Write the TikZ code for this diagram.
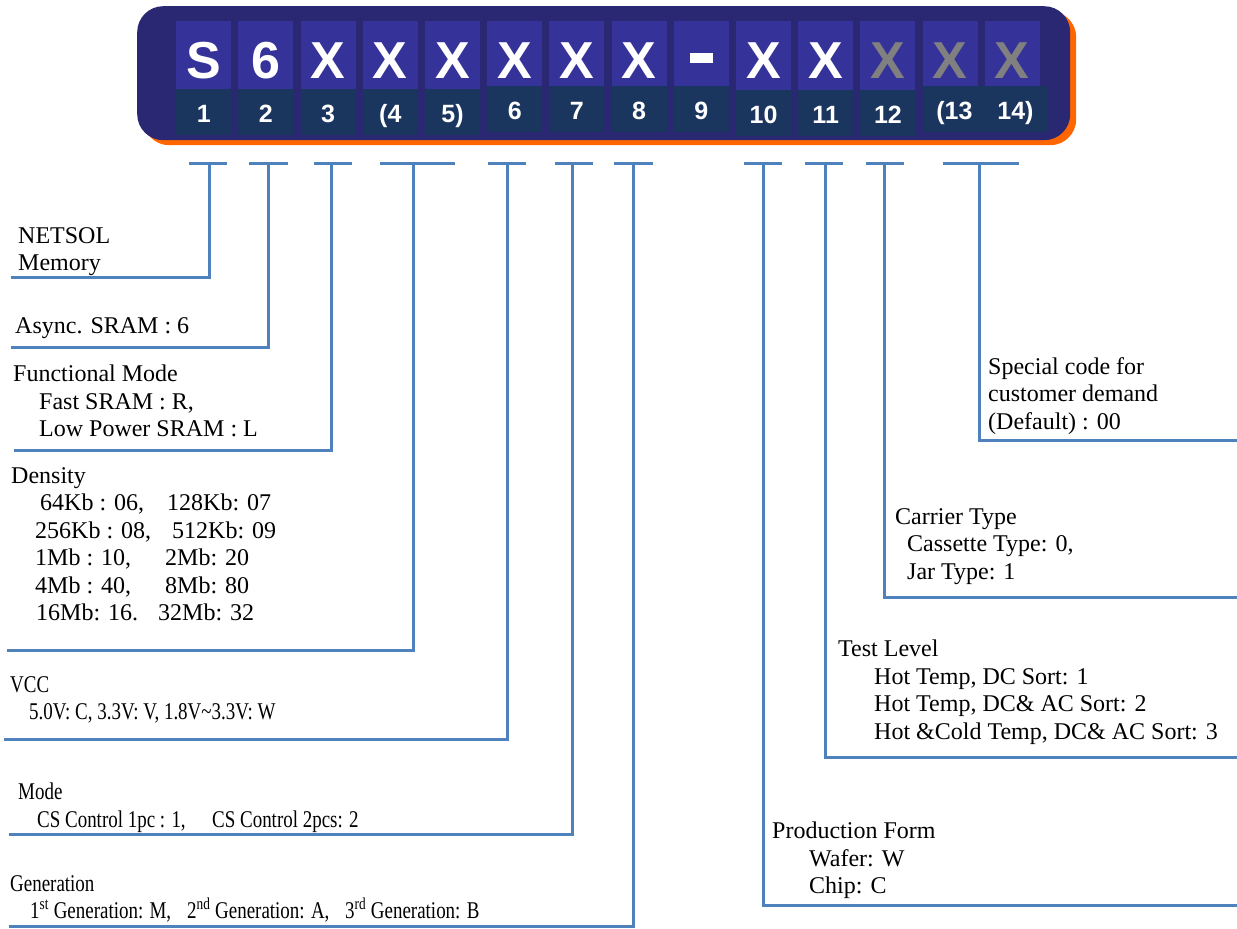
\documentclass[tikz,border=0pt]{standalone}
\usepackage{fontspec}
\setmainfont{Liberation Serif}
\setsansfont{Liberation Sans}
\newfontfamily\condserif[FakeStretch=0.79]{Liberation Serif}
\usepackage{xcolor}
\usepackage{tikz}
\definecolor{codenavy}{RGB}{42, 40, 115}
\definecolor{codeorange}{RGB}{255, 102, 0}
\definecolor{celltop}{RGB}{53, 51, 153}
\definecolor{cellbot}{RGB}{26, 54, 94}
\definecolor{codegray}{RGB}{128, 128, 128}
\definecolor{leadblue}{RGB}{79, 129, 189}
\newcommand{\codedash}{\rule[15pt]{23pt}{10pt}}

\begin{document}
\begin{tikzpicture}[
    x=1pt, y=-1pt,
    barbox/.style={anchor=north west, rounded corners=26pt, inner sep=0pt,
                   minimum width=933pt, minimum height=134pt},
    topcell/.style={anchor=north west, fill=celltop, minimum width=55pt, inner sep=0pt,
                    text height=57pt, text depth=12pt, text=white,
                    font=\sffamily\bfseries\fontsize{52}{52}\selectfont},
    botcell/.style={anchor=north west, fill=cellbot, minimum width=55pt, inner sep=0pt,
                    text height=33pt, text depth=13pt, text=white,
                    font=\sffamily\bfseries\fontsize{25}{25}\selectfont},
    lead/.style={draw=leadblue, line width=3pt},
    desc/.style={anchor=north west, inner sep=0pt, align=left,
                 font=\fontsize{24}{27.5}\selectfont},
    narrowdesc/.style={desc, font=\condserif\fontsize{24}{27.5}\selectfont}
]
    \useasboundingbox (0,0) rectangle (1237,929);

    % Code bar with shadow
    \node[barbox, fill=codeorange] (shadow) at (143,11) {};
    \node[barbox, fill=codenavy]   (bar)    at (137,6)  {};

    % Letter cells
    \foreach \i/\ch/\col in {1/S/white, 2/6/white, 3/X/white, 4/X/white, 5/X/white,
                             6/X/white, 7/X/white, 8/X/white, 9/\codedash/white,
                             10/X/white, 11/X/white, 12/X/codegray, 13/X/codegray, 14/X/codegray}
        \node[topcell, text=\col] (top\i) at ({176+62.2*(\i-1)}, 21) {\ch};

    % Position numbers
    \foreach \i/\num/\y in {1/1/89, 2/2/89, 3/3/89, 4/{(4}/89, 5/{5)}/89, 6/6/86, 7/7/86,
                            8/8/86, 9/9/86, 10/10/90, 11/11/90, 12/12/90}
        \node[botcell] (num\i) at ({176+62.2*(\i-1)}, \y) {\num};
    \node[botcell, minimum width=124.6pt] (num13) at ({176+62.2*12}, 86) {(13\hspace{25pt}14)\hspace{8pt}};

    % Leader lines
    \foreach \k/\l/\r/\vx/\by/\ex in {1/189/227/209/277/11, 2/249/288/268/347/11,
                                      3/314/352/331/450/14, 4/380/455/413/650/7,
                                      6/488/526/507/739/4, 7/555/593/572/834/9,
                                      8/614/653/633/926/9, 10/744/782/763/905/1237,
                                      11/805/843/825/757/1237, 12/866/904/884/597/1237,
                                      13/943/1019/979/440/1237}{
        \coordinate (barL\k) at (\l,163);
        \coordinate (barR\k) at (\r,163);
        \coordinate (tick\k) at (\vx,163);
        \coordinate (end\k)  at (\ex,\by);
        \draw[lead] (barL\k) -- (barR\k);
        \draw[lead] (tick\k) |- (end\k);
    }

    % Descriptions (left)
    \node[desc] (netsol) at (18,227) {NETSOL\\Memory};
    \node[desc] (async) at (15,317) {Async. SRAM : 6};
    \node[desc] (funcmode) at (13,365) {Functional Mode\\\hspace*{26pt}Fast SRAM : R,\\\hspace*{26pt}Low Power SRAM : L};
    \node[desc] (density) at (11,467) {Density\\%
        \hspace*{29pt}\makebox[127pt][l]{64Kb : 06,}128Kb: 07\\%
        \hspace*{24pt}\makebox[137pt][l]{256Kb : 08,}512Kb: 09\\%
        \hspace*{24pt}\makebox[130pt][l]{1Mb : 10,}2Mb: 20\\%
        \hspace*{24pt}\makebox[130pt][l]{4Mb : 40,}8Mb: 80\\%
        \hspace*{25pt}\makebox[122pt][l]{16Mb: 16.}32Mb: 32};
    \node[narrowdesc] (vcc) at (10,676) {VCC\\\hspace*{19pt}5.0V: C, 3.3V: V, 1.8V\textasciitilde 3.3V: W};
    \node[narrowdesc] (mode) at (18,783) {Mode\\\hspace*{19pt}\makebox[175pt][l]{CS Control 1pc : 1,}CS Control 2pcs: 2};
    \node[narrowdesc] (generation) at (10,875) {Generation\\\hspace*{20pt}%
        \makebox[157pt][l]{1\textsuperscript{st} Generation: M,}%
        \makebox[158pt][l]{2\textsuperscript{nd} Generation: A,}%
        3\textsuperscript{rd} Generation: B};

    % Descriptions (right)
    \node[desc] (special) at (988,357) {Special code for\\customer demand\\(Default) : 00};
    \node[desc] (carrier) at (895,508) {Carrier Type\\\hspace*{12pt}Cassette Type: 0,\\\hspace*{12pt}Jar Type: 1};
    \node[desc] (testlevel) at (838,640) {Test Level\\\hspace*{36pt}Hot Temp, DC Sort: 1\\%
        \hspace*{36pt}Hot Temp, DC\& AC Sort: 2\\\hspace*{36pt}Hot \&Cold Temp, DC\& AC Sort: 3};
    \node[desc] (prodform) at (772,822) {Production Form\\\hspace*{37pt}Wafer: W\\\hspace*{37pt}Chip: C};
\end{tikzpicture}
\end{document}
